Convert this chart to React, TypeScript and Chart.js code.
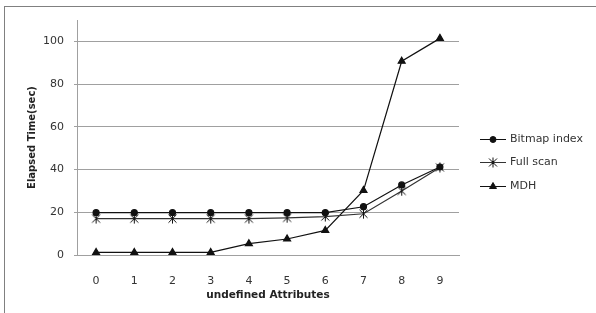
import React, { useEffect, useRef } from "react";
import { Chart, registerables } from "chart.js";
import { drawPoint } from "chart.js/helpers";

Chart.register(...registerables);

const categories = ["0", "1", "2", "3", "4", "5", "6", "7", "8", "9"];
const seriesNames = ["Bitmap index", "Full scan", "MDH"];
const bitmapIndex = [19.8, 19.8, 19.8, 19.8, 19.8, 19.8, 19.8, 22.6, 32.8, 41.2];
const fullScan = [17, 17, 17, 17, 17, 17.4, 18, 19.3, 30, 41];
const mdh = [1.2, 1.2, 1.2, 1.2, 5.3, 7.5, 11.5, 30.2, 90.7, 101.4];
const yTicks = [0, 20, 40, 60, 80, 100];

function makeStar(): HTMLCanvasElement {
  const s = 11;
  const c = document.createElement("canvas");
  c.width = s;
  c.height = s;
  const g = c.getContext("2d")!;
  g.strokeStyle = "#111";
  g.lineWidth = 1;
  g.beginPath();
  g.moveTo(1.5, 1.5);
  g.lineTo(9.5, 9.5);
  g.moveTo(9.5, 1.5);
  g.lineTo(1.5, 9.5);
  g.moveTo(5.5, 0.5);
  g.lineTo(5.5, 10.5);
  g.stroke();
  return c;
}

const legendPlugin = {
  id: "customLegend",
  afterDraw(chart: any) {
    const ctx = chart.ctx;
    const rows = [139, 162, 186];
    ctx.save();
    chart.data.datasets.forEach((ds: any, i: number) => {
      const y = rows[i];
      ctx.strokeStyle = ds.borderColor;
      ctx.lineWidth = 1;
      ctx.beginPath();
      ctx.moveTo(480, y + 0.5);
      ctx.lineTo(506, y + 0.5);
      ctx.stroke();
      ctx.fillStyle = ds.pointBackgroundColor;
      ctx.strokeStyle = ds.pointBorderColor;
      drawPoint(ctx, { pointStyle: ds.pointStyle, radius: ds.pointRadius, rotation: 0, borderWidth: 1 }, 493, y + 0.5);
      ctx.fillStyle = "#333";
      ctx.font = "11px 'DejaVu Sans'";
      ctx.textBaseline = "middle";
      ctx.textAlign = "left";
      ctx.fillText(ds.label, 510, y);
    });
    ctx.restore();
  },
};

export default function App() {
  const ref = useRef<HTMLCanvasElement>(null);
  useEffect(() => {
    const star = makeStar();
    const chart = new Chart(ref.current!, {
      type: "line",
      data: {
        labels: categories,
        datasets: [
          {
            label: seriesNames[0],
            data: bitmapIndex,
            borderColor: "#111",
            borderWidth: 1.2,
            pointStyle: "circle",
            pointRadius: 3,
            pointBackgroundColor: "#111",
            pointBorderColor: "#111",
          },
          {
            label: seriesNames[1],
            data: fullScan,
            borderColor: "#333",
            borderWidth: 1.2,
            pointStyle: star as any,
            pointRadius: 5,
            pointBackgroundColor: "#111",
            pointBorderColor: "#111",
          },
          {
            label: seriesNames[2],
            data: mdh,
            borderColor: "#111",
            borderWidth: 1.2,
            pointStyle: "triangle",
            pointRadius: 4,
            pointBackgroundColor: "#111",
            pointBorderColor: "#111",
          },
        ],
      },
      options: {
        animation: false,
        responsive: false,
        events: [],
        layout: { padding: { left: 0, right: 137, top: 20, bottom: 0 } },
        plugins: { legend: { display: false }, tooltip: { enabled: false } },
        scales: {
          x: {
            offset: true,
            grid: { display: false },
            border: { display: true, color: "#a0a0a0" },
            ticks: { color: "#333", font: { family: "DejaVu Sans", size: 11 }, padding: 12 },
            title: {
              display: true,
              text: "undefined Attributes",
              color: "#222",
              font: { family: "DejaVu Sans", size: 10.5, weight: "bold" },
              padding: { top: 0, bottom: 11 },
            },
            afterFit(scale: any) {
              scale.height = 58;
            },
          },
          y: {
            min: 0,
            max: 110,
            grid: { color: "#a0a0a0", tickLength: 3, drawTicks: true },
            border: { display: true, color: "#a0a0a0" },
            ticks: {
              stepSize: 20,
              includeBounds: false,
              color: "#333",
              font: { family: "DejaVu Sans", size: 11 },
              padding: 10,
            },
            afterBuildTicks(scale: any) {
              scale.ticks = yTicks.map((v) => ({ value: v }));
            },
            title: {
              display: true,
              text: "Elapsed Time(sec)",
              color: "#222",
              font: { family: "DejaVu Sans", size: 10, weight: "bold" },
              padding: { top: 26, bottom: 0 },
            },
            afterFit(scale: any) {
              scale.width = 77;
            },
          },
        },
      },
      plugins: [legendPlugin],
    });
    return () => chart.destroy();
  }, []);
  return (
    <div style={{ position: "fixed", left: 0, top: 0, width: 596, height: 313, background: "#fff", overflow: "hidden" }}>
      <div
        style={{
          position: "absolute",
          left: 4,
          top: 6,
          width: 600,
          height: 320,
          borderLeft: "1px solid #808080",
          borderTop: "1px solid #808080",
        }}
      />
      <canvas ref={ref} width={596} height={313} style={{ position: "absolute", left: 0, top: 0, display: "block" }} />
    </div>
  );
}
